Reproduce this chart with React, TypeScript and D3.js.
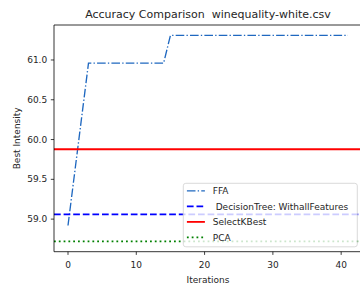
import React from 'react';
import * as d3 from 'd3';

// FFA best-so-far curve at its breakpoints
const ffaIterations = [0, 3, 14, 15, 41];
const ffaValues = [58.92, 60.96, 60.96, 61.31, 61.31];

// baseline accuracies drawn as flat lines across the whole axes
const decisionTreeValue = 59.06;
const selectKBestValue = 59.878;
const pcaValue = 58.72;

const xTicks = [0, 10, 20, 30, 40];
const yTicks = [59.0, 59.5, 60.0, 60.5, 61.0];

const legendLabels = ['FFA', ' DecisionTree: WithallFeatures', 'SelectKBest', 'PCA'];

const width = 360;
const height = 287;
const margin = { top: 25, right: -2, bottom: 35.3, left: 54 };
const font = '"DejaVu Sans", sans-serif';
const textColor = '#262626';

const series = [
  { label: legendLabels[0], color: '#1f68c0', width: 1.35, dash: '8.6,2.2,1.35,2.2' },
  { label: legendLabels[1], color: '#0000ff', width: 1.8, dash: '6.7,2.9' },
  { label: legendLabels[2], color: '#ff0000', width: 1.8, dash: null },
  { label: legendLabels[3], color: '#008000', width: 1.8, dash: '1.8,3' },
];

const App = () => {
  const xMin = d3.min(ffaIterations)!;
  const xMax = d3.max(ffaIterations)!;
  const xPad = (xMax - xMin) * 0.05;
  const allY = [...ffaValues, decisionTreeValue, selectKBestValue, pcaValue];
  const yMin = d3.min(allY)!;
  const yMax = d3.max(allY)!;
  const yPad = (yMax - yMin) * 0.05;

  const x = d3.scaleLinear()
    .domain([xMin - xPad, xMax + xPad])
    .range([margin.left, width - margin.right]);
  const y = d3.scaleLinear()
    .domain([yMin - yPad, yMax + yPad])
    .range([height - margin.bottom, margin.top]);

  const line = d3.line<[number, number]>()
    .x(d => x(d[0]))
    .y(d => y(d[1]));

  const ffaPath = line(ffaIterations.map((it, i) => [it, ffaValues[i]]))!;
  const [dLo, dHi] = x.domain();
  const flat = (v: number) => line([[dLo, v], [dHi, v]])!;

  const x0 = margin.left;
  const x1 = width - margin.right;
  const y0 = height - margin.bottom;
  const y1 = margin.top;

  const legend = { x: 183.3, y: 183.3, w: 174, h: 63.5 };

  return (
    <>
      <style>{`body{margin:0;}`}</style>
      <svg width={width} height={height} style={{ display: 'block', background: '#fff', overflow: 'hidden' }}
        fontFamily={font}>
        <text x={(x0 + x1) / 2} y={18} textAnchor="middle" fontSize={11} fill={textColor}
          style={{ whiteSpace: 'pre' }}>
          {'Accuracy Comparison  winequality-white.csv'}
        </text>

        <defs>
          <clipPath id="plot">
            <rect x={x0} y={y1} width={x1 - x0} height={y0 - y1} />
          </clipPath>
        </defs>

        <g clipPath="url(#plot)" fill="none">
          <path d={ffaPath} stroke={series[0].color} strokeWidth={series[0].width} strokeDasharray={series[0].dash!} />
          <path d={flat(decisionTreeValue)} stroke={series[1].color} strokeWidth={series[1].width} strokeDasharray={series[1].dash!} />
          <path d={flat(selectKBestValue)} stroke={series[2].color} strokeWidth={series[2].width} />
          <path d={flat(pcaValue)} stroke={series[3].color} strokeWidth={series[3].width} strokeDasharray={series[3].dash!} />
        </g>

        {/* spines */}
        <g stroke="#000" strokeWidth={0.8} fill="none">
          <line x1={x0} x2={x0} y1={y1} y2={y0} />
          <line x1={x0} x2={x1} y1={y0} y2={y0} />
          <line x1={x0} x2={x1} y1={y1} y2={y1} />
          <line x1={x1} x2={x1} y1={y1} y2={y0} />
        </g>

        {/* x axis */}
        {xTicks.map(t => (
          <g key={t} transform={`translate(${x(t)},${y0})`}>
            <line y2={3.2} stroke="#000" strokeWidth={0.75} />
            <text y={16} textAnchor="middle" fontSize={9} fill={textColor}>{t}</text>
          </g>
        ))}
        <text x={(x0 + x1) / 2} y={283} textAnchor="middle" fontSize={9} fill={textColor}>Iterations</text>

        {/* y axis */}
        {yTicks.map(t => (
          <g key={t} transform={`translate(${x0},${y(t)})`}>
            <line x2={-3.2} stroke="#000" strokeWidth={0.75} />
            <text x={-6.8} dy="0.35em" textAnchor="end" fontSize={9} fill={textColor}>{d3.format('.1f')(t)}</text>
          </g>
        ))}
        <text transform={`translate(19.5,${(y0 + y1) / 2}) rotate(-90)`} textAnchor="middle" fontSize={9} fill={textColor}>
          Best Intensity
        </text>

        {/* legend */}
        <g transform={`translate(${legend.x},${legend.y})`}>
          <rect width={legend.w} height={legend.h} rx={2.5} fill="#fff" fillOpacity={0.8} stroke="#d0d0d0" strokeWidth={0.8} />
          {series.map((s, i) => (
            <g key={s.label} transform={`translate(0,${7.6 + i * 15.5})`}>
              <line x1={3.6} x2={21.6} stroke={s.color} strokeWidth={s.width} strokeDasharray={s.dash ?? undefined} />
              <text x={29.5} dy="0.35em" fontSize={9} fill={textColor} style={{ whiteSpace: 'pre' }}>{s.label}</text>
            </g>
          ))}
        </g>
      </svg>
    </>
  );
};

export default App;
